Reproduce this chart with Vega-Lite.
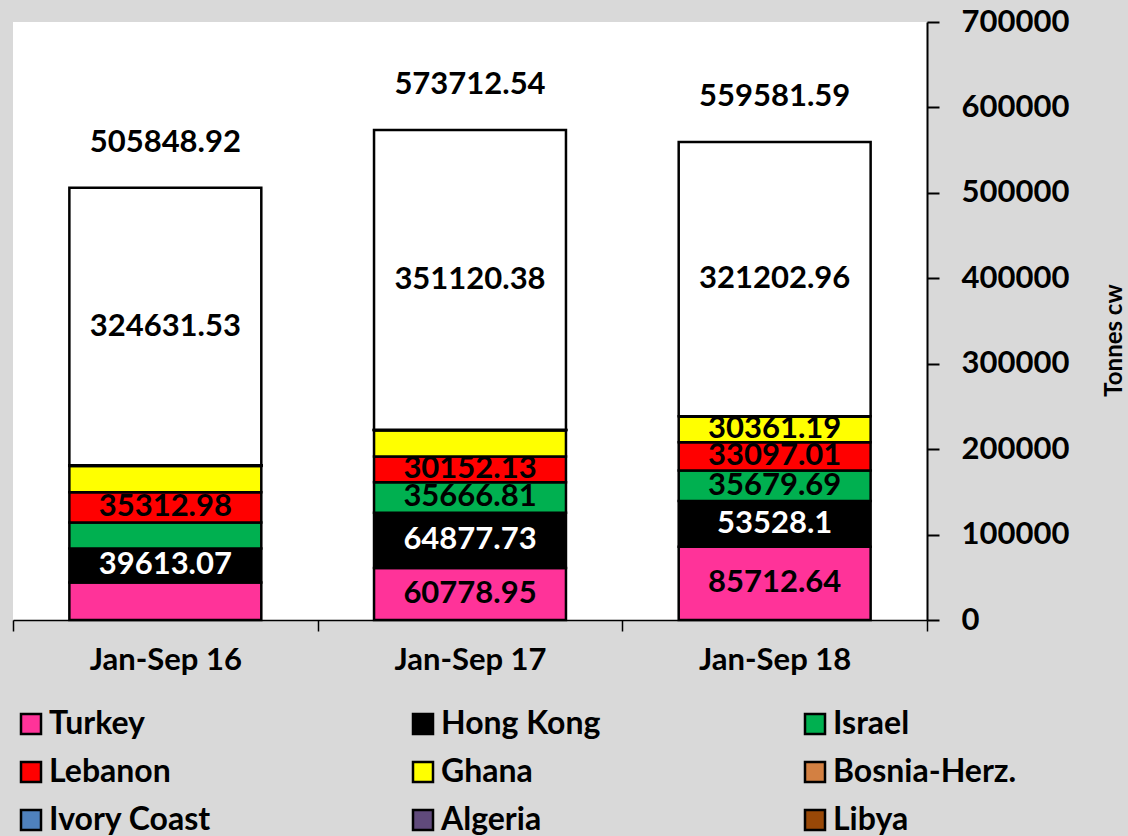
{
  "$schema": "https://vega.github.io/schema/vega-lite/v6.json",
  "autosize": {"type": "none"},
  "width": 914,
  "height": 598,
  "padding": {"left": 13, "top": 22, "right": 201, "bottom": 216},
  "background": "#d9d9d9",
  "config": {
    "view": {"fill": "#ffffff", "stroke": null},
    "font": "Lato",
    "text": {"font": "Lato", "fontWeight": "bold"}
  },
  "data": {
    "values": [
      {"period": "Jan-Sep 16", "country": "Turkey", "value": 44000, "labeled": false},
      {"period": "Jan-Sep 16", "country": "Hong Kong", "value": 39613.07, "labeled": true},
      {"period": "Jan-Sep 16", "country": "Israel", "value": 30500, "labeled": false},
      {"period": "Jan-Sep 16", "country": "Lebanon", "value": 35312.98, "labeled": true},
      {"period": "Jan-Sep 16", "country": "Ghana", "value": 30800, "labeled": false},
      {"period": "Jan-Sep 16", "country": "Bosnia-Herz.", "value": 600, "labeled": false},
      {"period": "Jan-Sep 16", "country": "Ivory Coast", "value": 200, "labeled": false},
      {"period": "Jan-Sep 16", "country": "Algeria", "value": 100, "labeled": false},
      {"period": "Jan-Sep 16", "country": "Libya", "value": 91.34, "labeled": false},
      {"period": "Jan-Sep 16", "country": "Other", "value": 324631.53, "labeled": true},
      {"period": "Jan-Sep 17", "country": "Turkey", "value": 60778.95, "labeled": true},
      {"period": "Jan-Sep 17", "country": "Hong Kong", "value": 64877.73, "labeled": true},
      {"period": "Jan-Sep 17", "country": "Israel", "value": 35666.81, "labeled": true},
      {"period": "Jan-Sep 17", "country": "Lebanon", "value": 30152.13, "labeled": true},
      {"period": "Jan-Sep 17", "country": "Ghana", "value": 30500, "labeled": false},
      {"period": "Jan-Sep 17", "country": "Bosnia-Herz.", "value": 400, "labeled": false},
      {"period": "Jan-Sep 17", "country": "Ivory Coast", "value": 100, "labeled": false},
      {"period": "Jan-Sep 17", "country": "Algeria", "value": 66.54, "labeled": false},
      {"period": "Jan-Sep 17", "country": "Libya", "value": 50, "labeled": false},
      {"period": "Jan-Sep 17", "country": "Other", "value": 351120.38, "labeled": true},
      {"period": "Jan-Sep 18", "country": "Turkey", "value": 85712.64, "labeled": true},
      {"period": "Jan-Sep 18", "country": "Hong Kong", "value": 53528.1, "labeled": true},
      {"period": "Jan-Sep 18", "country": "Israel", "value": 35679.69, "labeled": true},
      {"period": "Jan-Sep 18", "country": "Lebanon", "value": 33097.01, "labeled": true},
      {"period": "Jan-Sep 18", "country": "Ghana", "value": 30361.19, "labeled": true},
      {"period": "Jan-Sep 18", "country": "Bosnia-Herz.", "value": 0, "labeled": false},
      {"period": "Jan-Sep 18", "country": "Ivory Coast", "value": 0, "labeled": false},
      {"period": "Jan-Sep 18", "country": "Algeria", "value": 0, "labeled": false},
      {"period": "Jan-Sep 18", "country": "Libya", "value": 0, "labeled": false},
      {"period": "Jan-Sep 18", "country": "Other", "value": 321202.96, "labeled": true}
    ]
  },
  "transform": [
    {"calculate": "indexof(['Turkey','Hong Kong','Israel','Lebanon','Ghana','Bosnia-Herz.','Ivory Coast','Algeria','Libya','Other'], datum.country)", "as": "ord"},
    {"stack": "value", "groupby": ["period"], "sort": [{"field": "ord", "order": "ascending"}], "as": ["v0", "v1"]},
    {"calculate": "(datum.v0 + datum.v1) / 2", "as": "mid"}
  ],
  "encoding": {
    "x": {
      "field": "period",
      "type": "nominal",
      "sort": ["Jan-Sep 16", "Jan-Sep 17", "Jan-Sep 18"],
      "scale": {"paddingInner": 0, "paddingOuter": 0},
      "axis": {
        "title": null,
        "labelAngle": 0,
        "labelFont": "Lato",
        "labelFontWeight": "bold",
        "labelFontSize": 31,
        "labelColor": "#000000",
        "labelPadding": 14,
        "domainColor": "#000000",
        "domainWidth": 1.5,
        "tickColor": "#000000",
        "tickWidth": 1.5,
        "tickSize": 11,
        "tickBand": "extent"
      }
    }
  },
  "layer": [
    {
      "mark": {"type": "bar", "stroke": "#000000", "strokeWidth": 2.5, "width": {"band": 0.63}},
      "encoding": {
        "y": {
          "field": "v0",
          "type": "quantitative",
          "scale": {"domain": [0, 700000], "nice": false},
          "axis": {
            "orient": "right",
            "values": [0, 100000, 200000, 300000, 400000, 500000, 600000, 700000],
            "format": "d",
            "grid": false,
            "domainColor": "#000000",
            "domainWidth": 2,
            "tickColor": "#000000",
            "tickWidth": 2,
            "tickSize": 12,
            "labelPadding": 22,
            "labelFont": "Lato",
            "labelFontWeight": "bold",
            "labelFontSize": 31,
            "labelColor": "#000000",
            "title": "Tonnes cw",
            "titleFont": "Lato",
            "titleFontWeight": "bold",
            "titleFontSize": 24,
            "titleColor": "#000000",
            "titleAngle": 270,
            "titleX": 187,
            "titleY": 318,
            "titleAlign": "center",
            "titleBaseline": "middle"
          }
        },
        "y2": {"field": "v1"},
        "color": {
          "field": "country",
          "type": "nominal",
          "scale": {
            "domain": ["Turkey", "Hong Kong", "Israel", "Lebanon", "Ghana", "Bosnia-Herz.", "Ivory Coast", "Algeria", "Libya", "Other"],
            "range": ["#ff3399", "#000000", "#00b050", "#ff0000", "#ffff00", "#d38042", "#4f81bd", "#604a7b", "#984807", "#ffffff"]
          },
          "legend": {
            "values": ["Turkey", "Lebanon", "Ivory Coast", "Hong Kong", "Ghana", "Algeria", "Israel", "Bosnia-Herz.", "Libya"],
            "title": null,
            "orient": "none",
            "legendX": 2,
            "legendY": 686,
            "columns": 3,
            "gridAlign": "all",
            "columnPadding": 174,
            "rowPadding": 16,
            "symbolType": "square",
            "symbolSize": 400,
            "symbolStrokeColor": "#000000",
            "symbolStrokeWidth": 2.5,
            "symbolOpacity": 1,
            "labelFont": "Lato",
            "labelFontWeight": "bold",
            "labelFontSize": 32,
            "labelColor": "#000000",
            "labelOffset": 2,
            "labelLimit": 400
          }
        }
      }
    },
    {
      "transform": [{"filter": "datum.labeled"}],
      "mark": {"type": "text", "fontSize": 31, "fontWeight": "bold", "baseline": "middle", "align": "center"},
      "encoding": {
        "y": {"field": "mid", "type": "quantitative"},
        "text": {"field": "value", "type": "quantitative", "format": ".2~f"},
        "color": {
          "condition": {"test": "datum.country === 'Hong Kong'", "value": "#ffffff"},
          "value": "#000000"
        }
      }
    },
    {
      "transform": [{"aggregate": [{"op": "sum", "field": "value", "as": "total"}], "groupby": ["period"]}],
      "mark": {"type": "text", "fontSize": 31, "fontWeight": "bold", "baseline": "middle", "align": "center", "dy": -45, "color": "#000000"},
      "encoding": {
        "y": {"field": "total", "type": "quantitative"},
        "text": {"field": "total", "type": "quantitative", "format": ".2f"}
      }
    }
  ]
}
